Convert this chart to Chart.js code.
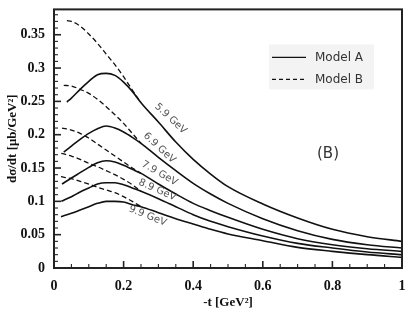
<!DOCTYPE html>
<html>
<head>
<meta charset="utf-8">
<script src="https://cdn.jsdelivr.net/npm/chart.js@4/dist/chart.umd.min.js"></script>
<style>
  body { margin: 0; background: #fff; }
  canvas { display: block; }
</style>
</head>
<body>
<canvas id="chart" width="409" height="327"></canvas>
<script>
// beam energies, one pair of curves each
const energies = ["5.9 GeV", "6.9 GeV", "7.9 GeV", "8.9 GeV", "9.9 GeV"];
// smallest -t reached for each energy (first point of each curve)
const tStart = [0.037, 0.028, 0.023, 0.021, 0.02];
// -t values after the first point
const tGrid = [0.05, 0.075, 0.1, 0.125, 0.15, 0.175, 0.2, 0.225, 0.25,
               0.3, 0.35, 0.4, 0.45, 0.5, 0.6, 0.7, 0.8, 0.9, 1.0];

// Model A (solid), first value at tStart then tGrid
const modelA59 = [0.249, 0.255, 0.268, 0.280, 0.290, 0.292, 0.289, 0.279, 0.265, 0.248, 0.219, 0.189, 0.163, 0.141, 0.122, 0.096, 0.075, 0.058, 0.047, 0.040];
const modelA69 = [0.174, 0.183, 0.193, 0.202, 0.209, 0.213, 0.210, 0.204, 0.196, 0.187, 0.166, 0.146, 0.127, 0.111, 0.097, 0.074, 0.056, 0.043, 0.035, 0.030];
const modelA79 = [0.126, 0.135, 0.143, 0.151, 0.158, 0.161, 0.159, 0.154, 0.148, 0.142, 0.126, 0.111, 0.097, 0.086, 0.076, 0.058, 0.044, 0.035, 0.029, 0.025];
const modelA89 = [0.100, 0.107, 0.114, 0.120, 0.126, 0.128, 0.128, 0.125, 0.120, 0.115, 0.104, 0.092, 0.080, 0.070, 0.062, 0.048, 0.037, 0.030, 0.024, 0.020];
const modelA99 = [0.077, 0.082, 0.087, 0.092, 0.097, 0.100, 0.100, 0.099, 0.095, 0.092, 0.083, 0.074, 0.066, 0.058, 0.051, 0.041, 0.031, 0.025, 0.020, 0.016];

// Model B (dashed), joins Model A near -t = 0.25
const modelB59 = [0.371, 0.370, 0.363, 0.351, 0.337, 0.321, 0.305, 0.287, 0.267, 0.248];
const modelB69 = [0.274, 0.273, 0.268, 0.262, 0.253, 0.242, 0.230, 0.217, 0.202, 0.187];
const modelB79 = [0.210, 0.207, 0.202, 0.195, 0.186, 0.177, 0.168, 0.159, 0.150, 0.142];
const modelB89 = [0.172, 0.168, 0.163, 0.157, 0.152, 0.146, 0.140, 0.133, 0.125, 0.115];
const modelB99 = [0.137, 0.134, 0.130, 0.126, 0.121, 0.117, 0.113, 0.107, 0.100, 0.092];

const xTicks = [0, 0.2, 0.4, 0.6, 0.8, 1];
const yTicks = [0, 0.05, 0.1, 0.15, 0.2, 0.25, 0.3, 0.35];

const modelA = [modelA59, modelA69, modelA79, modelA89, modelA99];
const modelB = [modelB59, modelB69, modelB79, modelB89, modelB99];

function toPoints(start, vals) {
    return vals.map((v, i) => ({x: i === 0 ? start : tGrid[i - 1], y: v}));
}

const datasets = [];
energies.forEach((e, k) => {
    datasets.push({
        label: "Model A " + e,
        data: toPoints(tStart[k], modelA[k]),
        borderColor: "#111",
        borderWidth: 1.6,
        pointRadius: 0,
        cubicInterpolationMode: "monotone"
    });
    datasets.push({
        label: "Model B " + e,
        data: toPoints(tStart[k], modelB[k]),
        borderColor: "#111",
        borderWidth: 1.3,
        borderDash: [5, 3],
        pointRadius: 0,
        cubicInterpolationMode: "monotone"
    });
});

// where each energy label sits (data units) and its tilt in degrees
const labelSpots = [
    {x: 0.335, y: 0.224, angle: 43},
    {x: 0.303, y: 0.180, angle: 43},
    {x: 0.303, y: 0.142, angle: 30},
    {x: 0.297, y: 0.117, angle: 24},
    {x: 0.269, y: 0.078, angle: 22}
];

const decorations = {
    id: "decorations",
    afterDraw(chart) {
        const {ctx, chartArea: a, scales: {x, y}} = chart;
        ctx.save();

        // energy labels along the curves
        ctx.fillStyle = "#555";
        ctx.font = "10px 'DejaVu Sans'";
        ctx.textAlign = "center";
        ctx.textBaseline = "middle";
        labelSpots.forEach((s, k) => {
            ctx.save();
            ctx.translate(x.getPixelForValue(s.x), y.getPixelForValue(s.y));
            ctx.rotate(s.angle * Math.PI / 180);
            ctx.fillText(energies[k], 0, 0);
            ctx.restore();
        });

        // inward tick marks, major ones heavier
        ctx.strokeStyle = "#222";
        for (let i = 0; i <= 20; i++) {
            const major = i % 4 === 0;
            const px = x.getPixelForValue(i * 0.05);
            ctx.lineWidth = major ? 1.6 : 1.1;
            ctx.beginPath();
            ctx.moveTo(px, a.bottom);
            ctx.lineTo(px, a.bottom - (major ? 7 : 4));
            ctx.stroke();
        }
        for (let i = 0; i <= 38; i++) {
            const major = i % 5 === 0;
            const py = y.getPixelForValue(i * 0.01);
            ctx.lineWidth = major ? 1.6 : 1.1;
            ctx.beginPath();
            ctx.moveTo(a.left, py);
            ctx.lineTo(a.left + (major ? 7 : 4), py);
            ctx.stroke();
        }

        // frame
        ctx.lineWidth = 2;
        ctx.strokeStyle = "#222";
        ctx.strokeRect(a.left, a.top, a.right - a.left, a.bottom - a.top);

        // legend box
        const lx = a.left + 215, ly = a.top + 35;
        ctx.fillStyle = "#f3f3f3";
        ctx.fillRect(lx, ly, 105, 45);
        ctx.strokeStyle = "#111";
        ctx.lineWidth = 1.4;
        ctx.beginPath();
        ctx.moveTo(lx + 3, ly + 13);
        ctx.lineTo(lx + 37, ly + 13);
        ctx.stroke();
        ctx.setLineDash([4, 3]);
        ctx.beginPath();
        ctx.moveTo(lx + 3, ly + 35);
        ctx.lineTo(lx + 37, ly + 35);
        ctx.stroke();
        ctx.setLineDash([]);
        ctx.fillStyle = "#333";
        ctx.font = "12px 'DejaVu Sans'";
        ctx.textAlign = "left";
        ctx.fillText("Model A", lx + 46, ly + 13);
        ctx.fillText("Model B", lx + 46, ly + 35);

        // panel tag
        ctx.font = "15px 'DejaVu Sans'";
        ctx.textAlign = "center";
        ctx.fillText("(B)", a.left + 274, a.top + 145);

        ctx.restore();
    }
};

const tickFont = {family: "'Liberation Serif'", size: 14, weight: "bold"};
const titleFont = {family: "'Liberation Serif'", size: 13, weight: "bold"};

new Chart(document.getElementById("chart"), {
    type: "line",
    data: {datasets: datasets},
    options: {
        responsive: false,
        animation: false,
        layout: {padding: {top: 7, right: 7, left: 0, bottom: 0}},
        plugins: {legend: {display: false}, tooltip: {enabled: false}},
        scales: {
            x: {
                type: "linear",
                min: 0,
                max: 1,
                grid: {display: false},
                border: {display: false},
                afterBuildTicks: s => { s.ticks = xTicks.map(v => ({value: v})); },
                afterFit: s => { s.height = 59; },
                ticks: {
                    font: tickFont,
                    color: "#111",
                    padding: 2,
                    maxRotation: 0,
                    callback: v => String(+v.toFixed(2))
                },
                title: {display: true, text: "-t [GeV²]", font: titleFont, color: "#111", padding: {bottom: 17, top: 0}}
            },
            y: {
                type: "linear",
                min: 0,
                max: 0.388,
                grid: {display: false},
                border: {display: false},
                afterBuildTicks: s => { s.ticks = yTicks.map(v => ({value: v})); },
                afterFit: s => { s.width = 54; },
                ticks: {
                    font: tickFont,
                    color: "#111",
                    padding: 1,
                    callback: v => String(+v.toFixed(2))
                },
                title: {display: true, text: "dσ/dt [μb/GeV²]", font: titleFont, color: "#111", padding: {top: 5, bottom: 0}}
            }
        }
    },
    plugins: [decorations]
});
</script>
</body>
</html>
